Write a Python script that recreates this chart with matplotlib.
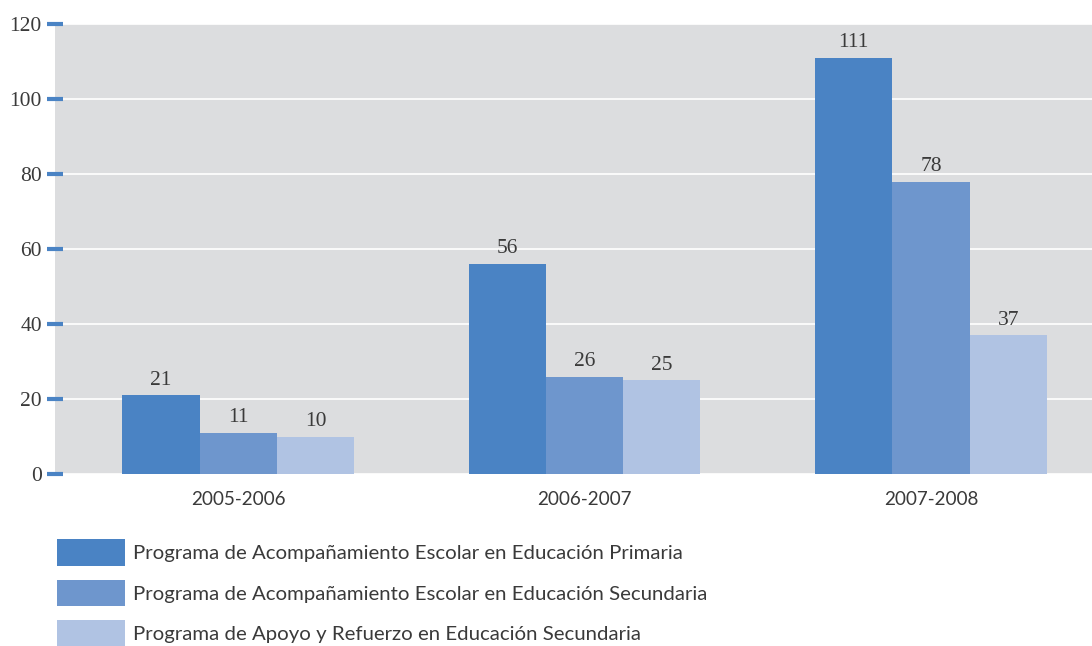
import matplotlib
matplotlib.use("Agg")
from matplotlib import pyplot as plt
import numpy as np

years = ["2005-2006", "2006-2007", "2007-2008"]
series_names = [
    "Programa de Acompañamiento Escolar en Educación Primaria",
    "Programa de Acompañamiento Escolar en Educación Secundaria",
    "Programa de Apoyo y Refuerzo en Educación Secundaria",
]
primaria = [21, 56, 111]
secundaria = [11, 26, 78]
refuerzo = [10, 25, 37]
colors = ["#4A83C4", "#6E96CD", "#B0C3E3"]

TEXT = "#3a3a3a"
SERIF = ["Liberation Serif", "DejaVu Serif"]
plt.rcParams["font.family"] = ["Lato", "DejaVu Sans"]

fig = plt.figure(figsize=(10.92, 6.46), dpi=100)
ax = fig.add_axes([55 / 1092, 1 - 474 / 646, 1037 / 1092, 450 / 646])
ax.set_facecolor("#DCDDDF")

x = np.arange(len(years))
width = 0.223
for i, (vals, name, c) in enumerate(zip([primaria, secundaria, refuerzo], series_names, colors)):
    bars = ax.bar(x + (i - 1) * width, vals, width, color=c, label=name, zorder=3)
    for b, v in zip(bars, vals):
        ax.annotate(str(v), (b.get_x() + b.get_width() / 2, v), xytext=(0, 4),
                    textcoords="offset points", ha="center", va="bottom",
                    fontsize=15.5, color=TEXT, family=SERIF)

ax.set_xlim(-0.529, 2.465)
ax.set_ylim(0, 120)
ax.set_yticks(range(0, 121, 20))
ax.yaxis.grid(True, color="white", linewidth=1.2, zorder=1)
ax.set_axisbelow(True)
for s in ax.spines.values():
    s.set_visible(False)

ax.tick_params(axis="y", direction="inout", length=11, width=3, color=colors[0],
               labelsize=15.5, labelcolor=TEXT, pad=4)
for lab in ax.get_yticklabels():
    lab.set_family(SERIF)
ax.set_xticks(x)
ax.set_xticklabels(years)
ax.tick_params(axis="x", length=0, labelsize=13.6, labelcolor=TEXT, pad=12)

leg = ax.legend(loc="upper left", bbox_to_anchor=(57 / 1092, 1 - 539 / 646),
                bbox_transform=fig.transFigure, frameon=False, fontsize=14.7,
                handlelength=3.33, handleheight=1.62, labelspacing=0.69,
                handletextpad=0.4, borderpad=0, borderaxespad=0)
for t in leg.get_texts():
    t.set_color(TEXT)

fig.savefig("out.png", dpi=100)
